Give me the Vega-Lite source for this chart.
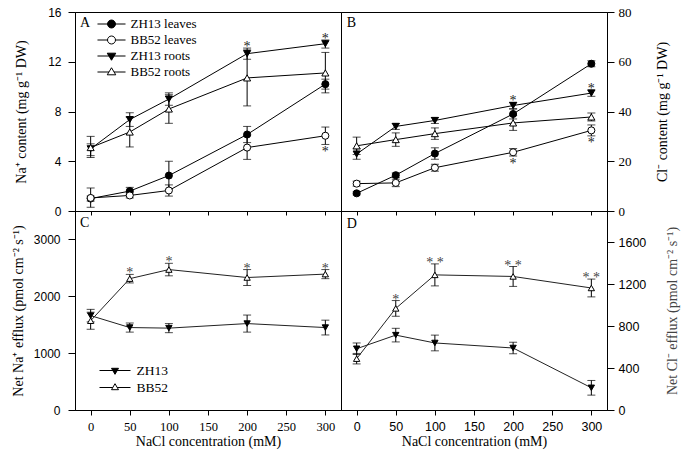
{
  "$schema": "https://vega.github.io/schema/vega-lite/v6.json",
  "padding": {"left": 10, "top": 5, "right": 9, "bottom": 7},
  "bounds": "flush",
  "spacing": 0,
  "columns": 2,
  "resolve": {"scale": {"shape": "independent", "fill": "independent"}, "legend": {"shape": "independent", "fill": "independent"}},
  "config": {
    "view": {"stroke": "black", "strokeWidth": 1},
    "axis": {"domainColor": "black", "tickColor": "black", "labelColor": "black", "titleColor": "black", "grid": false, "format": "d",
             "titleFont": "Liberation Serif", "titleFontSize": 14, "titleFontWeight": "normal",
             "labelFont": "Liberation Sans", "labelFontSize": 12}
  },
  "datasets": {
    "naContent": [
      {"series": "ZH13 leaves", "nacl": 0, "v": 1.0, "lo": 0.8, "hi": 1.2, "sig": "", "pos": ""},
      {"series": "ZH13 leaves", "nacl": 50, "v": 1.6, "lo": 1.3, "hi": 1.9, "sig": "", "pos": ""},
      {"series": "ZH13 leaves", "nacl": 100, "v": 2.85, "lo": 1.7, "hi": 4.0, "sig": "", "pos": ""},
      {"series": "ZH13 leaves", "nacl": 200, "v": 6.15, "lo": 5.5, "hi": 6.8, "sig": "", "pos": ""},
      {"series": "ZH13 leaves", "nacl": 300, "v": 10.2, "lo": 9.8, "hi": 10.6, "sig": "", "pos": ""},
      {"series": "BB52 leaves", "nacl": 0, "v": 1.05, "lo": 0.3, "hi": 1.85, "sig": "", "pos": ""},
      {"series": "BB52 leaves", "nacl": 50, "v": 1.25, "lo": 1.05, "hi": 1.45, "sig": "", "pos": ""},
      {"series": "BB52 leaves", "nacl": 100, "v": 1.65, "lo": 1.2, "hi": 2.1, "sig": "", "pos": ""},
      {"series": "BB52 leaves", "nacl": 200, "v": 5.1, "lo": 4.15, "hi": 6.05, "sig": "", "pos": ""},
      {"series": "BB52 leaves", "nacl": 300, "v": 6.05, "lo": 5.35, "hi": 6.75, "sig": "*", "pos": "below"},
      {"series": "ZH13 roots", "nacl": 0, "v": 5.0, "lo": 4.45, "hi": 5.4, "sig": "", "pos": ""},
      {"series": "ZH13 roots", "nacl": 50, "v": 7.35, "lo": 6.8, "hi": 7.9, "sig": "", "pos": ""},
      {"series": "ZH13 roots", "nacl": 100, "v": 9.0, "lo": 8.5, "hi": 9.5, "sig": "", "pos": ""},
      {"series": "ZH13 roots", "nacl": 200, "v": 12.65, "lo": 12.2, "hi": 13.1, "sig": "*", "pos": "above"},
      {"series": "ZH13 roots", "nacl": 300, "v": 13.45, "lo": 13.1, "hi": 13.75, "sig": "*", "pos": "above"},
      {"series": "BB52 roots", "nacl": 0, "v": 5.1, "lo": 4.3, "hi": 6.0, "sig": "", "pos": ""},
      {"series": "BB52 roots", "nacl": 50, "v": 6.35, "lo": 5.15, "hi": 7.55, "sig": "", "pos": ""},
      {"series": "BB52 roots", "nacl": 100, "v": 8.2, "lo": 7.05, "hi": 9.35, "sig": "", "pos": ""},
      {"series": "BB52 roots", "nacl": 200, "v": 10.7, "lo": 8.45, "hi": 12.95, "sig": "", "pos": ""},
      {"series": "BB52 roots", "nacl": 300, "v": 11.1, "lo": 9.5, "hi": 12.75, "sig": "", "pos": ""}
    ],
    "clContent": [
      {"series": "ZH13 leaves", "nacl": 0, "v": 7.1, "lo": 6.5, "hi": 7.7, "sig": "", "pos": ""},
      {"series": "ZH13 leaves", "nacl": 50, "v": 14.4, "lo": 13.5, "hi": 15.3, "sig": "", "pos": ""},
      {"series": "ZH13 leaves", "nacl": 100, "v": 23.1, "lo": 20.8, "hi": 25.4, "sig": "", "pos": ""},
      {"series": "ZH13 leaves", "nacl": 200, "v": 39.0, "lo": 37.0, "hi": 41.0, "sig": "", "pos": ""},
      {"series": "ZH13 leaves", "nacl": 300, "v": 59.2, "lo": 58.0, "hi": 60.4, "sig": "", "pos": ""},
      {"series": "BB52 leaves", "nacl": 0, "v": 11.0, "lo": 10.0, "hi": 12.0, "sig": "", "pos": ""},
      {"series": "BB52 leaves", "nacl": 50, "v": 11.3, "lo": 9.8, "hi": 12.8, "sig": "", "pos": ""},
      {"series": "BB52 leaves", "nacl": 100, "v": 17.4, "lo": 16.0, "hi": 18.8, "sig": "", "pos": ""},
      {"series": "BB52 leaves", "nacl": 200, "v": 23.6, "lo": 22.1, "hi": 25.1, "sig": "*", "pos": "below"},
      {"series": "BB52 leaves", "nacl": 300, "v": 32.4, "lo": 30.2, "hi": 34.6, "sig": "*", "pos": "below"},
      {"series": "ZH13 roots", "nacl": 0, "v": 22.9, "lo": 20.8, "hi": 25.0, "sig": "", "pos": ""},
      {"series": "ZH13 roots", "nacl": 50, "v": 34.0, "lo": 32.8, "hi": 35.2, "sig": "", "pos": ""},
      {"series": "ZH13 roots", "nacl": 100, "v": 36.4, "lo": 35.2, "hi": 37.6, "sig": "", "pos": ""},
      {"series": "ZH13 roots", "nacl": 200, "v": 42.4, "lo": 41.1, "hi": 43.7, "sig": "*", "pos": "above"},
      {"series": "ZH13 roots", "nacl": 300, "v": 47.4, "lo": 46.1, "hi": 48.7, "sig": "*", "pos": "above"},
      {"series": "BB52 roots", "nacl": 0, "v": 26.2, "lo": 22.7, "hi": 29.7, "sig": "", "pos": ""},
      {"series": "BB52 roots", "nacl": 50, "v": 28.7, "lo": 26.0, "hi": 31.4, "sig": "", "pos": ""},
      {"series": "BB52 roots", "nacl": 100, "v": 31.1, "lo": 28.8, "hi": 33.4, "sig": "", "pos": ""},
      {"series": "BB52 roots", "nacl": 200, "v": 35.4, "lo": 32.4, "hi": 38.4, "sig": "", "pos": ""},
      {"series": "BB52 roots", "nacl": 300, "v": 37.8, "lo": 36.2, "hi": 39.4, "sig": "", "pos": ""}
    ],
    "naEfflux": [
      {"series": "ZH13", "nacl": 0, "v": 1660, "lo": 1550, "hi": 1770, "sig": "", "pos": ""},
      {"series": "ZH13", "nacl": 50, "v": 1450, "lo": 1370, "hi": 1530, "sig": "", "pos": ""},
      {"series": "ZH13", "nacl": 100, "v": 1440, "lo": 1360, "hi": 1520, "sig": "", "pos": ""},
      {"series": "ZH13", "nacl": 200, "v": 1520, "lo": 1370, "hi": 1670, "sig": "", "pos": ""},
      {"series": "ZH13", "nacl": 300, "v": 1450, "lo": 1320, "hi": 1580, "sig": "", "pos": ""},
      {"series": "BB52", "nacl": 0, "v": 1570, "lo": 1420, "hi": 1720, "sig": "", "pos": ""},
      {"series": "BB52", "nacl": 50, "v": 2310, "lo": 2235, "hi": 2385, "sig": "*", "pos": "above"},
      {"series": "BB52", "nacl": 100, "v": 2470, "lo": 2360, "hi": 2580, "sig": "*", "pos": "above"},
      {"series": "BB52", "nacl": 200, "v": 2330, "lo": 2190, "hi": 2470, "sig": "*", "pos": "above"},
      {"series": "BB52", "nacl": 300, "v": 2390, "lo": 2310, "hi": 2470, "sig": "*", "pos": "above"}
    ],
    "clEfflux": [
      {"series": "ZH13", "nacl": 0, "v": 585, "lo": 530, "hi": 640, "sig": "", "pos": ""},
      {"series": "ZH13", "nacl": 50, "v": 715, "lo": 650, "hi": 780, "sig": "", "pos": ""},
      {"series": "ZH13", "nacl": 100, "v": 640, "lo": 565, "hi": 715, "sig": "", "pos": ""},
      {"series": "ZH13", "nacl": 200, "v": 592, "lo": 537, "hi": 647, "sig": "", "pos": ""},
      {"series": "ZH13", "nacl": 300, "v": 212, "lo": 142, "hi": 282, "sig": "", "pos": ""},
      {"series": "BB52", "nacl": 0, "v": 490, "lo": 440, "hi": 540, "sig": "", "pos": ""},
      {"series": "BB52", "nacl": 50, "v": 970, "lo": 895, "hi": 1045, "sig": "*", "pos": "above"},
      {"series": "BB52", "nacl": 100, "v": 1290, "lo": 1185, "hi": 1395, "sig": "* *", "pos": "above"},
      {"series": "BB52", "nacl": 200, "v": 1275, "lo": 1180, "hi": 1370, "sig": "* *", "pos": "above"},
      {"series": "BB52", "nacl": 300, "v": 1165, "lo": 1080, "hi": 1250, "sig": "* *", "pos": "above"}
    ]
  },
  "concat": [
    {
      "width": 266, "height": 199,
      "data": {"name": "naContent"},
      "encoding": {
        "x": {"field": "nacl", "type": "quantitative", "scale": {"domain": [-20, 320], "nice": false, "zero": false},
              "axis": {"values": [0, 50, 100, 150, 200, 250, 300], "labels": false, "title": null, "tickSize": 4}},
        "y": {"field": "v", "type": "quantitative", "scale": {"domain": [0, 16], "nice": false},
              "axis": {"values": [0, 4, 8, 12, 16], "title": "Na⁺ content (mg g⁻¹ DW)", "tickSize": 7, "labelPadding": 7, "titlePadding": 19}}
      },
      "layer": [
        {"mark": {"type": "errorbar", "ticks": true, "size": 8, "thickness": 1, "color": "black"},
         "encoding": {"y": {"field": "lo", "type": "quantitative", "scale": {"domain": [0, 16], "nice": false}, "title": "Na⁺ content (mg g⁻¹ DW)"}, "y2": {"field": "hi"}}},
        {"mark": {"type": "line", "color": "black", "strokeWidth": 1}, "encoding": {"detail": {"field": "series"}}},
        {"transform": [{"filter": "datum.series === 'ZH13 leaves'"}],
         "mark": {"type": "point", "shape": "circle", "filled": true, "fill": "black", "stroke": "black", "strokeWidth": 1, "size": 50, "opacity": 1}},
        {"transform": [{"filter": "datum.series === 'BB52 leaves'"}],
         "mark": {"type": "point", "shape": "circle", "filled": true, "fill": "white", "stroke": "black", "strokeWidth": 1, "size": 50, "opacity": 1}},
        {"transform": [{"filter": "datum.series === 'ZH13 roots'"}],
         "mark": {"type": "point", "shape": "triangle-down", "filled": true, "fill": "black", "stroke": "black", "strokeWidth": 1, "size": 50, "opacity": 1}},
        {"transform": [{"filter": "datum.series === 'BB52 roots'"}],
         "mark": {"type": "point", "shape": "triangle-up", "filled": true, "fill": "white", "stroke": "black", "strokeWidth": 1, "size": 50, "opacity": 1}},
        {"transform": [{"filter": "datum.pos === 'above'"}],
         "mark": {"type": "text", "font": "Liberation Serif", "fontSize": 14, "baseline": "alphabetic", "dy": 3, "fill": "#222"},
         "encoding": {"y": {"field": "hi", "type": "quantitative", "scale": {"domain": [0, 16], "nice": false}, "title": "Na⁺ content (mg g⁻¹ DW)"}, "text": {"field": "sig"}}},
        {"transform": [{"filter": "datum.pos === 'below'"}],
         "mark": {"type": "text", "font": "Liberation Serif", "fontSize": 14, "baseline": "alphabetic", "dy": 11.5, "fill": "#222"},
         "encoding": {"y": {"field": "lo", "type": "quantitative", "scale": {"domain": [0, 16], "nice": false}, "title": "Na⁺ content (mg g⁻¹ DW)"}, "text": {"field": "sig"}}},
        {"transform": [{"filter": "datum.series === 'ZH13 leaves' && datum.nacl === 0"}],
         "mark": {"type": "text", "font": "Liberation Serif", "fontSize": 14, "align": "left", "baseline": "middle", "fill": "black"},
         "encoding": {"x": {"datum": -13.6}, "y": {"datum": 15.1}, "text": {"value": "A"}}},
        {"transform": [{"filter": "false"}],
         "mark": {"type": "point", "filled": true, "stroke": "black", "strokeWidth": 1, "opacity": 1},
         "encoding": {
           "shape": {"field": "series", "type": "nominal",
                     "scale": {"domain": ["ZH13 leaves", "BB52 leaves", "ZH13 roots", "BB52 roots"],
                               "range": ["M-1.65,0H-0.47M0.47,0H1.65M-0.47,0A0.47,0.47 0 1,0 0.47,0A0.47,0.47 0 1,0 -0.47,0Z",
                                         "M-1.65,0H-0.47M0.47,0H1.65M-0.47,0A0.47,0.47 0 1,0 0.47,0A0.47,0.47 0 1,0 -0.47,0Z",
                                         "M-1.65,0H1.65M-0.5,-0.33L0.5,-0.33L0,0.5Z",
                                         "M-1.65,0H-0.3M0.3,0H1.65M-0.5,0.33L0.5,0.33L0,-0.5Z"]},
                     "legend": {"title": null, "orient": "none", "legendX": 22, "legendY": 3, "padding": 0, "symbolSize": 289, "symbolOffset": 5.5,
                                "symbolStrokeWidth": 1, "symbolOpacity": 1,
                                "labelFont": "Liberation Serif", "labelFontSize": 13, "labelColor": "black", "labelOffset": 10, "rowPadding": 0}},
           "fill": {"field": "series", "type": "nominal",
                    "scale": {"domain": ["ZH13 leaves", "BB52 leaves", "ZH13 roots", "BB52 roots"], "range": ["black", "white", "black", "white"]},
                    "legend": {"title": null, "orient": "none", "legendX": 22, "legendY": 3, "padding": 0, "symbolSize": 289, "symbolOffset": 5.5,
                               "symbolStrokeWidth": 1, "symbolOpacity": 1,
                               "labelFont": "Liberation Serif", "labelFontSize": 13, "labelColor": "black", "labelOffset": 10, "rowPadding": 0}}
         }}
      ]
    },
    {
      "width": 266, "height": 199,
      "data": {"name": "clContent"},
      "encoding": {
        "x": {"field": "nacl", "type": "quantitative", "scale": {"domain": [-20, 320], "nice": false, "zero": false},
              "axis": {"values": [0, 50, 100, 150, 200, 250, 300], "labels": false, "title": null, "tickSize": 4}},
        "y": {"field": "v", "type": "quantitative", "scale": {"domain": [0, 80], "nice": false},
              "axis": {"orient": "right", "values": [0, 20, 40, 60, 80], "title": "Cl⁻ content (mg g⁻¹ DW)", "labelFont": "Liberation Serif", "labelFontSize": 13,
                       "tickSize": 7, "labelPadding": 4, "titlePadding": 24, "titleAngle": 270, "titleBaseline": "top"}}
      },
      "layer": [
        {"mark": {"type": "errorbar", "ticks": true, "size": 8, "thickness": 1, "color": "black"},
         "encoding": {"y": {"field": "lo", "type": "quantitative", "scale": {"domain": [0, 80], "nice": false}, "title": "Cl⁻ content (mg g⁻¹ DW)"}, "y2": {"field": "hi"}}},
        {"mark": {"type": "line", "color": "black", "strokeWidth": 1}, "encoding": {"detail": {"field": "series"}}},
        {"transform": [{"filter": "datum.series === 'ZH13 leaves'"}],
         "mark": {"type": "point", "shape": "circle", "filled": true, "fill": "black", "stroke": "black", "strokeWidth": 1, "size": 50, "opacity": 1}},
        {"transform": [{"filter": "datum.series === 'BB52 leaves'"}],
         "mark": {"type": "point", "shape": "circle", "filled": true, "fill": "white", "stroke": "black", "strokeWidth": 1, "size": 50, "opacity": 1}},
        {"transform": [{"filter": "datum.series === 'ZH13 roots'"}],
         "mark": {"type": "point", "shape": "triangle-down", "filled": true, "fill": "black", "stroke": "black", "strokeWidth": 1, "size": 50, "opacity": 1}},
        {"transform": [{"filter": "datum.series === 'BB52 roots'"}],
         "mark": {"type": "point", "shape": "triangle-up", "filled": true, "fill": "white", "stroke": "black", "strokeWidth": 1, "size": 50, "opacity": 1}},
        {"transform": [{"filter": "datum.pos === 'above'"}],
         "mark": {"type": "text", "font": "Liberation Serif", "fontSize": 14, "baseline": "alphabetic", "dy": 3, "fill": "#222"},
         "encoding": {"y": {"field": "hi", "type": "quantitative", "scale": {"domain": [0, 80], "nice": false}, "title": "Cl⁻ content (mg g⁻¹ DW)"}, "text": {"field": "sig"}}},
        {"transform": [{"filter": "datum.pos === 'below'"}],
         "mark": {"type": "text", "font": "Liberation Serif", "fontSize": 14, "baseline": "alphabetic", "dy": 11.5, "fill": "#222"},
         "encoding": {"y": {"field": "lo", "type": "quantitative", "scale": {"domain": [0, 80], "nice": false}, "title": "Cl⁻ content (mg g⁻¹ DW)"}, "text": {"field": "sig"}}},
        {"transform": [{"filter": "datum.series === 'ZH13 leaves' && datum.nacl === 0"}],
         "mark": {"type": "text", "font": "Liberation Serif", "fontSize": 14, "align": "left", "baseline": "middle", "fill": "black"},
         "encoding": {"x": {"datum": -12.8}, "y": {"datum": 75.6}, "text": {"value": "B"}}}
      ]
    },
    {
      "width": 266, "height": 199,
      "data": {"name": "naEfflux"},
      "encoding": {
        "x": {"field": "nacl", "type": "quantitative", "scale": {"domain": [-20, 320], "nice": false, "zero": false},
              "axis": {"values": [0, 50, 100, 150, 200, 250, 300], "title": "NaCl concentration (mM)", "labelFont": "Liberation Serif", "labelFontSize": 12.5,
                       "tickSize": 5, "labelPadding": 5, "titlePadding": 2}},
        "y": {"field": "v", "type": "quantitative", "scale": {"domain": [0, 3500], "nice": false},
              "axis": {"values": [0, 1000, 2000, 3000], "title": "Net Na⁺ efflux (pmol cm⁻² s⁻¹)", "tickSize": 7, "labelPadding": 8, "titlePadding": 8}}
      },
      "layer": [
        {"mark": {"type": "errorbar", "ticks": true, "size": 8, "thickness": 1, "color": "black"},
         "encoding": {"y": {"field": "lo", "type": "quantitative", "scale": {"domain": [0, 3500], "nice": false}, "title": "Net Na⁺ efflux (pmol cm⁻² s⁻¹)"}, "y2": {"field": "hi"}}},
        {"mark": {"type": "line", "color": "#222", "strokeWidth": 1}, "encoding": {"detail": {"field": "series"}}},
        {"transform": [{"filter": "datum.series === 'ZH13'"}],
         "mark": {"type": "point", "shape": "triangle-down", "filled": true, "fill": "black", "stroke": "black", "strokeWidth": 1, "size": 40, "opacity": 1}},
        {"transform": [{"filter": "datum.series === 'BB52'"}],
         "mark": {"type": "point", "shape": "triangle-up", "filled": true, "fill": "white", "stroke": "black", "strokeWidth": 1, "size": 40, "opacity": 1}},
        {"transform": [{"filter": "datum.pos === 'above'"}],
         "mark": {"type": "text", "font": "Liberation Serif", "fontSize": 14, "baseline": "alphabetic", "dy": 3, "fill": "#444"},
         "encoding": {"y": {"field": "hi", "type": "quantitative", "scale": {"domain": [0, 3500], "nice": false}, "title": "Net Na⁺ efflux (pmol cm⁻² s⁻¹)"}, "text": {"field": "sig"}}},
        {"transform": [{"filter": "datum.series === 'ZH13' && datum.nacl === 0"}],
         "mark": {"type": "text", "font": "Liberation Serif", "fontSize": 14, "align": "left", "baseline": "middle", "fill": "black"},
         "encoding": {"x": {"datum": -13.6}, "y": {"datum": 3289}, "text": {"value": "C"}}},
        {"transform": [{"filter": "false"}],
         "mark": {"type": "point", "filled": true, "stroke": "black", "strokeWidth": 1, "opacity": 1},
         "encoding": {
           "shape": {"field": "series", "type": "nominal",
                     "scale": {"domain": ["ZH13", "BB52"],
                               "range": ["M-1.55,0H1.55M-0.35,-0.22L0.35,-0.22L0,0.38Z",
                                         "M-1.55,0H-0.22M0.22,0H1.55M-0.35,0.22L0.35,0.22L0,-0.38Z"]},
                     "legend": {"title": null, "orient": "none", "legendX": 24, "legendY": 149, "padding": 0, "symbolSize": 400, "symbolOffset": 5.5,
                                "symbolStrokeWidth": 1, "symbolOpacity": 1,
                                "labelFont": "Liberation Serif", "labelFontSize": 13.5, "labelColor": "black", "labelOffset": 11, "rowPadding": 0}},
           "fill": {"field": "series", "type": "nominal",
                    "scale": {"domain": ["ZH13", "BB52"], "range": ["black", "white"]},
                    "legend": {"title": null, "orient": "none", "legendX": 24, "legendY": 149, "padding": 0, "symbolSize": 400, "symbolOffset": 5.5,
                               "symbolStrokeWidth": 1, "symbolOpacity": 1,
                               "labelFont": "Liberation Serif", "labelFontSize": 13.5, "labelColor": "black", "labelOffset": 11, "rowPadding": 0}}
         }}
      ]
    },
    {
      "width": 266, "height": 199,
      "data": {"name": "clEfflux"},
      "encoding": {
        "x": {"field": "nacl", "type": "quantitative", "scale": {"domain": [-20, 320], "nice": false, "zero": false},
              "axis": {"values": [0, 50, 100, 150, 200, 250, 300], "title": "NaCl concentration (mM)", "labelFontSize": 12.5,
                       "tickSize": 5, "labelPadding": 5, "titlePadding": 2}},
        "y": {"field": "v", "type": "quantitative", "scale": {"domain": [0, 1900], "nice": false},
              "axis": {"orient": "right", "values": [0, 400, 800, 1200, 1600], "title": "Net Cl⁻ efflux (pmol cm⁻² s⁻¹)", "labelFontSize": 12.5,
                       "tickSize": 7, "labelPadding": 4, "titlePadding": 20, "titleAngle": 270, "titleBaseline": "top", "titleColor": "#444"}}
      },
      "layer": [
        {"mark": {"type": "errorbar", "ticks": true, "size": 8, "thickness": 1, "color": "black"},
         "encoding": {"y": {"field": "lo", "type": "quantitative", "scale": {"domain": [0, 1900], "nice": false}, "title": "Net Cl⁻ efflux (pmol cm⁻² s⁻¹)"}, "y2": {"field": "hi"}}},
        {"mark": {"type": "line", "color": "#222", "strokeWidth": 1}, "encoding": {"detail": {"field": "series"}}},
        {"transform": [{"filter": "datum.series === 'ZH13'"}],
         "mark": {"type": "point", "shape": "triangle-down", "filled": true, "fill": "black", "stroke": "black", "strokeWidth": 1, "size": 40, "opacity": 1}},
        {"transform": [{"filter": "datum.series === 'BB52'"}],
         "mark": {"type": "point", "shape": "triangle-up", "filled": true, "fill": "white", "stroke": "black", "strokeWidth": 1, "size": 40, "opacity": 1}},
        {"transform": [{"filter": "datum.pos === 'above'"}],
         "mark": {"type": "text", "font": "Liberation Serif", "fontSize": 14, "baseline": "alphabetic", "dy": 3, "fill": "#444"},
         "encoding": {"y": {"field": "hi", "type": "quantitative", "scale": {"domain": [0, 1900], "nice": false}, "title": "Net Cl⁻ efflux (pmol cm⁻² s⁻¹)"}, "text": {"field": "sig"}}},
        {"transform": [{"filter": "datum.series === 'ZH13' && datum.nacl === 0"}],
         "mark": {"type": "text", "font": "Liberation Serif", "fontSize": 14, "align": "left", "baseline": "middle", "fill": "black"},
         "encoding": {"x": {"datum": -12.8}, "y": {"datum": 1776}, "text": {"value": "D"}}}
      ]
    }
  ]
}
